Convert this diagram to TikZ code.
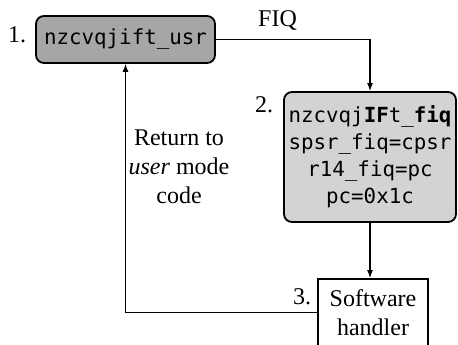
\documentclass[tikz,border=0pt]{standalone}
\usepackage{fontspec}
\setmainfont{Liberation Serif}
\setmonofont{DejaVu Sans Mono}
\usetikzlibrary{arrows.meta,positioning}
\definecolor{modeInk}{HTML}{000000}
\definecolor{modeUsr}{HTML}{A6A6A6}
\definecolor{modeFiq}{HTML}{D3D3D3}
\tikzset{
  every picture/.style={font=\fontsize{12}{14.5}\selectfont, text=modeInk},
  mode box/.style={draw=modeInk, line width=0.9pt, rounded corners=4pt,
    align=center, inner sep=0pt, font=\fontsize{10.4}{13.5}\selectfont\ttfamily},
  usr box/.style={mode box, fill=modeUsr, minimum width=89.5pt, minimum height=23.5pt},
  fiq box/.style={mode box, fill=modeFiq, minimum width=86pt, minimum height=65pt},
  handler box/.style={draw=modeInk, line width=0.9pt, fill=white, align=center,
    inner sep=0pt, minimum width=55pt, minimum height=33.5pt},
  num label/.style={inner sep=0pt},
  mode arrow/.style={-{Latex[length=4pt,width=3pt]}, draw=modeInk, line width=0.6pt}
}
\begin{document}
\begin{tikzpicture}[x=0.5pt,y=0.5pt]
  \useasboundingbox (0,0) rectangle (458,344);
  \node[usr box] (usr) at (125.5,304.5) {nzcvqjift\_usr};
  \node[fiq box] (fiq) at (370,187)
    {nzcvqj\textbf{IF}t\_\textbf{fiq}\\spsr\_fiq=cpsr\\r14\_fiq=pc\\pc=0x1c};
  \node[handler box] (handler) at (373,31.5) {Software\\handler};
  \node[num label] (n1) at (17,309) {1.};
  \node[num label] (n2) at (264,239) {2.};
  \node[num label] (n3) at (302,47) {3.};
  \node[align=center] (ret) at (179,177) {Return to\\\textit{user} mode\\code};
  % FIQ entry
  \draw[mode arrow] (usr.east) -| node[pos=0.2, above, yshift=1pt] (fiqlbl) {FIQ} (fiq.north);
  \draw[mode arrow] (fiq.south) -- (fiq.south |- handler.north);
  % back to user mode
  \draw[mode arrow] (handler.west) -| (usr.south);
\end{tikzpicture}
\end{document}
